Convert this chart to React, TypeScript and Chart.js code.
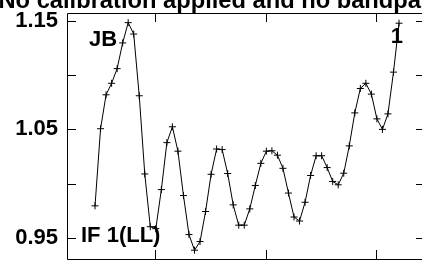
import React, { useEffect, useRef } from "react";
import { Chart, registerables } from "chart.js";

Chart.register(...registerables);

const titleText = "No calibration applied and no bandpass calibration applied";
const sourceLabel = "JB";
const ifLabel = "IF 1(LL)";
const panelLabel = "1";

const xValues = [
  1, 2, 3, 4, 5, 6, 7, 8, 9, 10, 11, 12, 13, 14, 15, 16, 17, 18, 19, 20,
  21, 22, 23, 24, 25, 26, 27, 28, 29, 30, 31, 32, 33, 34, 35, 36, 37, 38, 39, 40,
  41, 42, 43, 44, 45, 46, 47, 48, 49, 50, 51, 52, 53, 54, 55, 56,
];

const amplitudes = [
  0.9795, 1.0506, 1.0819, 1.0925, 1.106, 1.1297, 1.1484, 1.1379, 1.081, 1.0089,
  0.9603, 0.9585, 0.9945, 1.0378, 1.0524, 1.0299, 0.989, 0.953, 0.9386, 0.9466,
  0.9743, 1.0086, 1.0319, 1.0314, 1.0093, 0.9804, 0.9617, 0.9617, 0.9767, 0.9983,
  1.0187, 1.0299, 1.0303, 1.0262, 1.0141, 0.9913, 0.9692, 0.9655, 0.9828, 1.0075,
  1.0257, 1.0257, 1.0148, 1.002, 0.9989, 1.0096, 1.0348, 1.0652, 1.0877, 1.0925,
  1.0825, 1.0597, 1.05, 1.0643, 1.1028, 1.1479,
];

const xTickValues = [11.85, 31.85, 51.85];
const yTickValues = [0.95, 1.0, 1.05, 1.1, 1.15];
const yLabelValues = [0.95, 1.05, 1.15];

const X_MIN = -4.07;
const X_MAX = 60.7;
const Y_MIN = 0.9305;
const Y_MAX = 1.1573;

const FONT = "'Liberation Sans', Arial, sans-serif";

const framePlugin = {
  id: "framePlugin",
  afterDatasetsDraw(chart: any) {
    const { ctx, chartArea, scales } = chart;
    const { left, right, top, bottom } = chartArea;
    const tick = 9;
    ctx.save();
    ctx.strokeStyle = "#000";
    ctx.lineWidth = 1;
    ctx.beginPath();
    ctx.rect(Math.round(left) + 0.5, Math.round(top) + 0.5, Math.round(right - left), Math.round(bottom - top));
    ctx.stroke();
    ctx.beginPath();
    for (const v of yTickValues) {
      const y = Math.round(scales.y.getPixelForValue(v)) + 0.5;
      ctx.moveTo(left, y);
      ctx.lineTo(left + tick, y);
      ctx.moveTo(right, y);
      ctx.lineTo(right - tick, y);
    }
    for (const v of xTickValues) {
      const x = Math.round(scales.x.getPixelForValue(v)) + 0.5;
      ctx.moveTo(x, top);
      ctx.lineTo(x, top + tick);
      ctx.moveTo(x, bottom);
      ctx.lineTo(x, bottom - tick);
    }
    ctx.stroke();

    ctx.fillStyle = "#000";
    ctx.textBaseline = "alphabetic";
    ctx.textAlign = "left";
    ctx.font = `bold 23.7px ${FONT}`;
    ctx.fillText(titleText, -1.5, 8);
    ctx.font = `bold 22px ${FONT}`;
    ctx.fillText(sourceLabel, 89, 46);
    ctx.fillText(ifLabel, 81, 242);
    ctx.textAlign = "right";
    ctx.fillText(panelLabel, 403, 43);
    ctx.restore();
  },
};

export default function App() {
  const canvasRef = useRef<HTMLCanvasElement | null>(null);

  useEffect(() => {
    const canvas = canvasRef.current;
    if (!canvas) return;
    const chart = new Chart(canvas, {
      type: "line",
      data: {
        datasets: [
          {
            data: xValues.map((x, i) => ({ x, y: amplitudes[i] })),
            borderColor: "#000",
            borderWidth: 1,
            backgroundColor: "#000",
            pointStyle: "cross",
            pointRadius: 3.5,
            pointBorderColor: "#000",
            pointBorderWidth: 1,
            tension: 0,
            fill: false,
          },
        ],
      },
      options: {
        animation: false,
        responsive: false,
        maintainAspectRatio: false,
        devicePixelRatio: 1,
        layout: { padding: { left: 0, right: 15, top: 13, bottom: 2 } },
        plugins: {
          legend: { display: false },
          tooltip: { enabled: false },
          title: { display: false },
        },
        scales: {
          x: {
            type: "linear",
            display: false,
            min: X_MIN,
            max: X_MAX,
          },
          y: {
            type: "linear",
            min: Y_MIN,
            max: Y_MAX,
            afterBuildTicks: (scale: any) => {
              scale.ticks = yLabelValues.map((v) => ({ value: v }));
            },
            afterFit: (scale: any) => {
              scale.width = 67;
              scale.paddingTop = 0;
              scale.paddingBottom = 0;
            },
            grid: { display: false, drawTicks: false },
            border: { display: false },
            ticks: {
              padding: 9,
              color: "#000",
              font: { family: FONT, size: 22, weight: "bold" },
              callback: (v: any) => Number(v).toFixed(2),
            },
          },
        },
      },
      plugins: [framePlugin],
    });
    return () => chart.destroy();
  }, []);

  return (
    <div
      style={{
        position: "fixed",
        left: 0,
        top: 0,
        width: 422,
        height: 264,
        overflow: "hidden",
        background: "#fff",
      }}
    >
      <canvas ref={canvasRef} width={440} height={264} style={{ display: "block", width: 440, height: 264 }} />
    </div>
  );
}
